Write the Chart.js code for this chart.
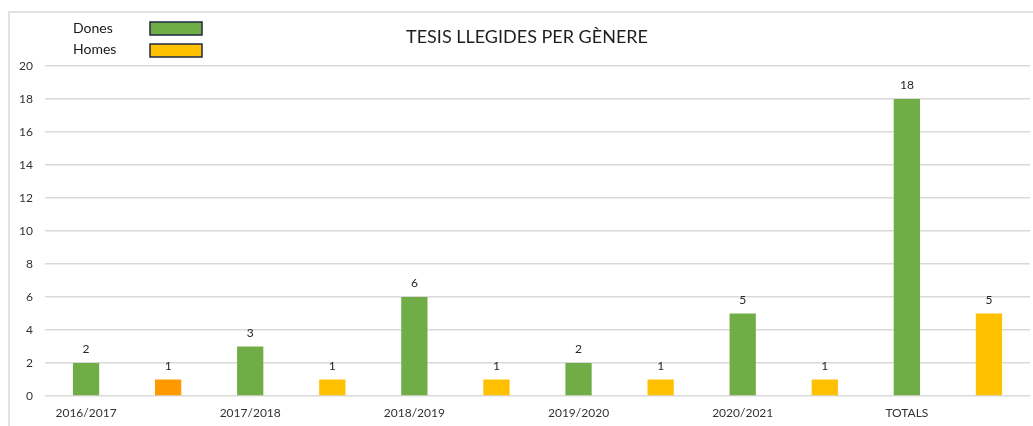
<!DOCTYPE html>
<html><head><meta charset="utf-8">
<script src="https://cdn.jsdelivr.net/npm/chart.js@4"></script>
<style>html,body{margin:0;padding:0;background:#fff}#wrap{width:1033px;height:426px;position:relative}</style>
</head><body><div id="wrap"><canvas id="c"></canvas></div>
<script>
const chartTitle = 'TESIS LLEGIDES PER GÈNERE';
const categories = ['2016/2017', '2017/2018', '2018/2019', '2019/2020', '2020/2021', 'TOTALS'];
const seriesNames = ['Dones', 'Homes'];
const dones = [2, 3, 6, 2, 5, 18];
const homes = [1, 1, 1, 1, 1, 5];
const donesColor = '#70AD47';
const homesColors = ['#FF9900', '#FFC000', '#FFC000', '#FFC000', '#FFC000', '#FFC000'];
const yMin = 0, yMax = 20, yStep = 2;

// Build interleaved slots: each category gets a Dones slot (labelled) and a Homes slot
const slotLabels = categories.flatMap(c => [c, '']);
const donesSlots = dones.flatMap(v => [v, null]);
const homesSlots = homes.flatMap(v => [null, v]);
const homesSlotColors = homesColors.flatMap(c => ['rgba(0,0,0,0)', c]);

const FONT = 'Lato, "Liberation Sans", sans-serif';
const TXT = '#333333';

const framePlugin = {
  id: 'frame',
  beforeDraw(chart) {
    const ctx = chart.ctx;
    ctx.save();
    ctx.strokeStyle = '#D9D9D9';
    ctx.lineWidth = 1.5;
    ctx.beginPath();
    ctx.moveTo(9, chart.height);
    ctx.lineTo(9, 12);
    ctx.lineTo(chart.width, 12);
    ctx.stroke();
    ctx.restore();
  }
};

const decorPlugin = {
  id: 'decor',
  afterDraw(chart) {
    const ctx = chart.ctx;
    ctx.save();
    // title
    ctx.fillStyle = '#1f1f1f';
    ctx.font = '18px ' + FONT;
    ctx.textAlign = 'center';
    ctx.textBaseline = 'alphabetic';
    ctx.fillText(chartTitle, 527, 43);
    // legend
    const legendColors = [donesColor, homesColors[1]];
    const rows = [{ty: 33, by: 22}, {ty: 54, by: 44}];
    ctx.font = '14px ' + FONT;
    ctx.textAlign = 'left';
    seriesNames.forEach((name, i) => {
      ctx.fillStyle = '#1a1a1a';
      ctx.fillText(name, 73, rows[i].ty);
      ctx.fillStyle = legendColors[i];
      ctx.fillRect(150, rows[i].by, 52, 13);
      ctx.strokeStyle = '#1F2A44';
      ctx.lineWidth = 1.5;
      ctx.strokeRect(150, rows[i].by, 52, 13);
    });
    ctx.restore();
  },
  afterDatasetsDraw(chart) {
    const ctx = chart.ctx;
    ctx.save();
    ctx.fillStyle = '#262626';
    ctx.font = '12px ' + FONT;
    ctx.textAlign = 'center';
    ctx.textBaseline = 'alphabetic';
    chart.data.datasets.forEach((ds, di) => {
      const meta = chart.getDatasetMeta(di);
      meta.data.forEach((el, i) => {
        const v = ds.data[i];
        if (v === null || v === undefined) return;
        ctx.fillText(String(v), el.x, el.y - 10);
      });
    });
    ctx.restore();
  }
};

new Chart(document.getElementById('c'), {
  type: 'bar',
  data: {
    labels: slotLabels,
    datasets: [
      { label: seriesNames[0], data: donesSlots, backgroundColor: donesColor, grouped: false,
        barPercentage: 0.32, categoryPercentage: 1 },
      { label: seriesNames[1], data: homesSlots, backgroundColor: homesSlotColors, grouped: false,
        barPercentage: 0.32, categoryPercentage: 1 }
    ]
  },
  options: {
    responsive: true,
    maintainAspectRatio: false,
    animation: false,
    devicePixelRatio: 1,
    layout: { padding: { top: 66, right: 3, left: 0, bottom: 0 } },
    plugins: { legend: { display: false }, tooltip: { enabled: false }, title: { display: false } },
    scales: {
      x: {
        grid: { display: false },
        border: { display: false },
        ticks: { autoSkip: false, maxRotation: 0, padding: 2, color: TXT, font: { family: FONT, size: 12 },
          callback: (v, i) => slotLabels[i] },
        afterFit: s => { s.height = 30; }
      },
      y: {
        min: yMin, max: yMax,
        grid: { color: '#D9D9D9', lineWidth: 1.5, drawTicks: false },
        border: { display: false },
        ticks: { stepSize: yStep, padding: 12, color: TXT, font: { family: FONT, size: 12 } },
        afterFit: s => { s.width = 45; }
      }
    }
  },
  plugins: [framePlugin, decorPlugin]
});
</script>
</body></html>
